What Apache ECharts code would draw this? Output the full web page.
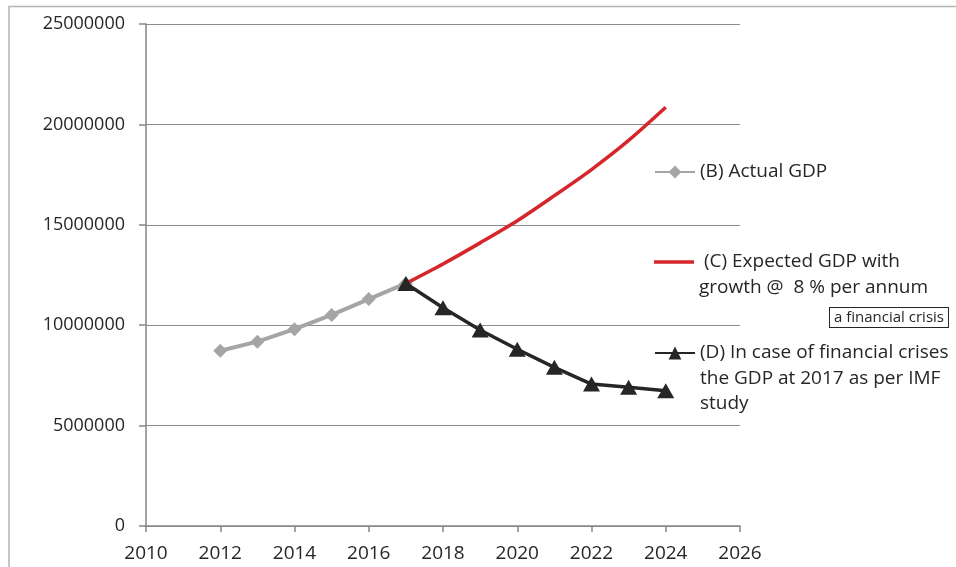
<!DOCTYPE html>
<html>
<head>
<meta charset="utf-8">
<style>
  html, body { margin: 0; padding: 0; background: #fff; }
  #chart { width: 956px; height: 567px; }
</style>
<script src="https://cdn.jsdelivr.net/npm/echarts@6/dist/echarts.min.js"></script>
</head>
<body>
<div id="chart"></div>
<script>
// ---- data ----
var actualYears = [2012, 2013, 2014, 2015, 2016, 2017];
var actualGdp = [8730000, 9180000, 9800000, 10510000, 11300000, 12080000];
var expectedYears = [2017, 2018, 2019, 2020, 2021, 2022, 2023, 2024];
var expectedGdp = [12080000, 13050000, 14100000, 15200000, 16450000, 17750000, 19200000, 20850000];
var crisisYears = [2017, 2018, 2019, 2020, 2021, 2022, 2023, 2024];
var crisisGdp = [12080000, 10870000, 9760000, 8800000, 7900000, 7070000, 6910000, 6740000];
var seriesNames = ['(B) Actual GDP', '(C) Expected GDP with growth @  8 % per annum', '(D) In case of financial crises the GDP at 2017 as per IMF study'];
var legendLabels = ['(B) Actual GDP', ' (C) Expected GDP with\ngrowth @  8 % per annum', '(D) In case of financial crises\nthe GDP at 2017 as per IMF\nstudy'];
var noteText = 'a financial crisis';

function pairs(xs, ys) { return xs.map(function (x, i) { return [x, ys[i]]; }); }

var LH = 25.5;
function legendFor(i, iconCenterY, extra) {
  var lines = legendLabels[i].split('\n');
  var n = lines.length;
  var pre = [];
  for (var k = 0; k < n - 1; k++) pre.push(' ');
  var text = pre.concat(lines).join('\n');
  var h = (2 * n - 1) * LH;
  var ih = (extra && extra.itemHeight) || 16;
  var o = {
    data: [extra && extra.icon ? { name: seriesNames[i], icon: extra.icon } : seriesNames[i]],
    left: 654,
    top: iconCenterY - Math.max(h, ih) / 2,
    orient: 'vertical',
    padding: 0,
    itemWidth: 40,
    itemHeight: ih,
    selectedMode: false,
    formatter: function () { return text; },
    textStyle: {
      fontFamily: 'Open Sans',
      fontSize: 19,
      color: '#262626',
      lineHeight: LH
    }
  };
  return o;
}

var chart = echarts.init(document.getElementById('chart'), null, { renderer: 'canvas' });
chart.setOption({
  animation: false,
  backgroundColor: '#fff',
  grid: { left: 146, right: 216, top: 24, bottom: 41 },
  xAxis: {
    type: 'value', min: 2010, max: 2026, interval: 2,
    axisLine: { show: true, lineStyle: { color: '#868686', width: 1.5 } },
    axisTick: { show: true, length: 6, lineStyle: { color: '#868686', width: 1.5 } },
    splitLine: { show: false },
    axisLabel: {
      margin: 18, fontFamily: 'Open Sans', fontSize: 19, color: '#262626',
      formatter: function (v) { return String(v); }
    }
  },
  yAxis: {
    type: 'value', min: 0, max: 25000000, interval: 5000000,
    axisLine: { show: true, lineStyle: { color: '#868686', width: 1.5 } },
    axisTick: { show: true, length: 7, lineStyle: { color: '#868686', width: 1.5 } },
    splitLine: { show: true, lineStyle: { color: '#8c8c8c', width: 1 } },
    axisLabel: {
      margin: 21, fontFamily: 'Open Sans', fontSize: 18, color: '#262626',
      formatter: function (v) { return String(v); }
    }
  },
  legend: [
    legendFor(0, 172),
    legendFor(1, 262, { icon: 'rect', itemHeight: 3.5 }),
    legendFor(2, 353)
  ],
  graphic: [
    {
      type: 'rect', silent: true, z: -10,
      shape: { x: 9, y: 6.5, width: 960, height: 570 },
      style: { fill: 'none', stroke: '#b4b4b4', lineWidth: 1.5 }
    },
    {
      type: 'text', left: 829, top: 307, z: 100,
      style: {
        text: noteText, fill: '#262626', font: '15px "Open Sans"',
        borderColor: '#262626', borderWidth: 1, padding: [2, 4, 2, 4], backgroundColor: '#fff'
      }
    }
  ],
  series: [
    {
      name: seriesNames[0], type: 'line', data: pairs(actualYears, actualGdp),
      symbol: 'diamond', symbolSize: 14,
      lineStyle: { color: '#a5a5a5', width: 4 },
      itemStyle: { color: '#a5a5a5' }, z: 2
    },
    {
      name: seriesNames[1], type: 'line', data: pairs(expectedYears, expectedGdp),
      symbol: 'none', smooth: 0.3,
      lineStyle: { color: '#d7262b', width: 3.5 },
      itemStyle: { color: '#d7262b' }, z: 3
    },
    {
      name: seriesNames[2], type: 'line', data: pairs(crisisYears, crisisGdp),
      symbol: 'triangle', symbolSize: [17, 15],
      lineStyle: { color: '#262626', width: 3.5 },
      itemStyle: { color: '#262626' }, z: 4
    }
  ]
});
</script>
</body>
</html>
